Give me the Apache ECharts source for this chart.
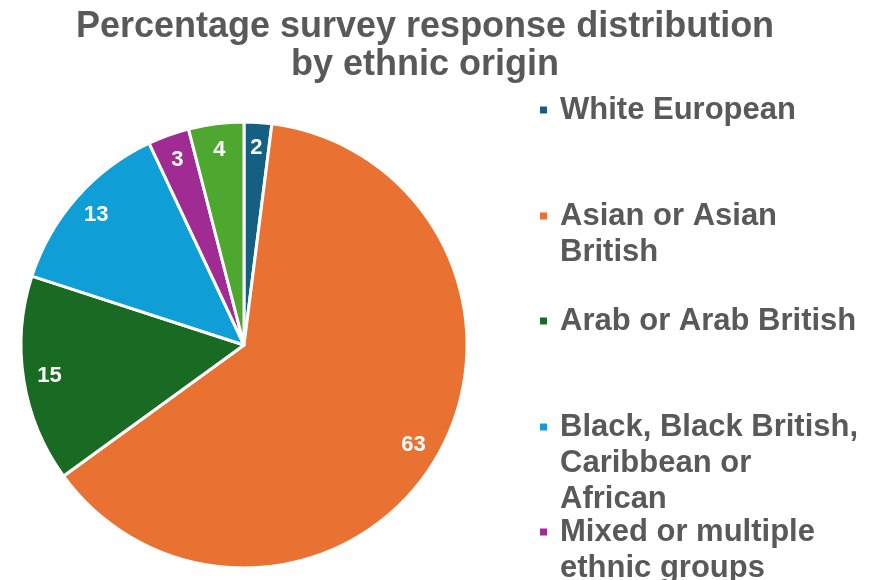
<!DOCTYPE html>
<html>
<head>
<meta charset="utf-8">
<script src="https://cdn.jsdelivr.net/npm/echarts@6/dist/echarts.min.js"></script>
<style>
  html, body { margin: 0; padding: 0; background: #fff; }
  #chart { width: 879px; height: 580px; }
</style>
</head>
<body>
<div id="chart"></div>
<script>
// Survey responses by ethnic origin (percent)
const categories = [
  'White European',
  'Asian or Asian British',
  'Arab or Arab British',
  'Black, Black British, Caribbean or African',
  'Mixed or multiple ethnic groups',
  'Other ethnic group'
];
const legendLabels = [
  'White European',
  'Asian or Asian\nBritish',
  'Arab or Arab British',
  'Black, Black British,\nCaribbean or\nAfrican',
  'Mixed or multiple\nethnic groups'
];
const values = [2, 63, 15, 13, 3, 4];
const colors = ['#156082', '#E97132', '#196B24', '#0F9ED5', '#A02B93', '#4EA72E'];

const textGray = '#595959';
const fontFamily = '"Liberation Sans", Arial, sans-serif';
const legendLineHeight = 36;
const markerSize = 9;

const pieData = categories.map((name, i) => ({
  name: name,
  value: values[i],
  itemStyle: { color: colors[i] }
}));

// Marker whose square sits at the top of a taller box, so that it lines up
// with the first line of a wrapped legend label instead of its middle.
function topAlignedMarker(lines) {
  const boxHeight = markerSize + (lines - 1) * legendLineHeight;
  const ratio = boxHeight / markerSize;
  return {
    icon: 'path://M0,0h1v1h-1z M0,' + ratio,
    height: boxHeight
  };
}

// one legend block per visible entry, stacked down the right side
const legendTops = [87, 193, 298, 404, 509];
const legends = legendTops.map((top, i) => {
  const lines = legendLabels[i].split('\n').length;
  const marker = topAlignedMarker(lines);
  return {
    data: [categories[i]],
    left: 533,
    top: top,
    orient: 'vertical',
    icon: marker.icon,
    itemWidth: markerSize,
    itemHeight: marker.height,
    itemGap: 0,
    selectedMode: false,
    formatter: () => legendLabels[i],
    textStyle: {
      color: textGray,
      fontFamily: fontFamily,
      fontWeight: 'bold',
      fontSize: 31,
      lineHeight: legendLineHeight,
      padding: [0, 0, 0, 7]
    }
  };
});

const chart = echarts.init(document.getElementById('chart'), null, { renderer: 'canvas' });
chart.setOption({
  animation: false,
  title: {
    text: 'Percentage survey response distribution\nby ethnic origin',
    left: 420,
    top: 3,
    textAlign: 'center',
    textStyle: {
      color: textGray,
      fontFamily: fontFamily,
      fontWeight: 'bold',
      fontSize: 36,
      lineHeight: 38
    }
  },
  legend: legends,
  series: [
    {
      type: 'pie',
      center: [244, 345],
      radius: [0, 223],
      startAngle: 90,
      clockwise: true,
      silent: true,
      itemStyle: { borderColor: '#ffffff', borderWidth: 3 },
      label: { show: false },
      labelLine: { show: false },
      data: pieData
    },
    {
      // transparent ring that carries the value labels near the rim
      type: 'pie',
      center: [244, 345],
      radius: [166, 222],
      startAngle: 90,
      clockwise: true,
      silent: true,
      legendHoverLink: false,
      itemStyle: { color: 'rgba(0,0,0,0)', borderWidth: 0 },
      label: {
        show: true,
        position: 'inside',
        formatter: '{c}',
        color: '#ffffff',
        fontFamily: fontFamily,
        fontWeight: 'bold',
        fontSize: 22
      },
      labelLine: { show: false },
      data: categories.map((name, i) => ({ name: name, value: values[i] }))
    }
  ]
});
</script>
</body>
</html>
